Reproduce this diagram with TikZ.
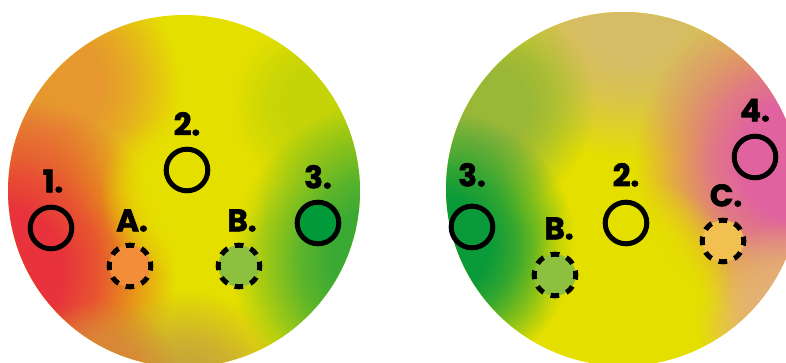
\documentclass[tikz,border=0pt]{standalone}
\usepackage{fontspec}
\setmainfont{Poppins}[BoldFeatures={FakeBold=2}]
\usepackage{tikz}
\usetikzlibrary{positioning,fadings}
\definecolor{DiscRed}{HTML}{E8333C}
\definecolor{DiscOrange}{HTML}{E6982F}
\definecolor{DiscYellow}{HTML}{E5DF00}
\definecolor{DiscLime}{HTML}{C4D408}
\definecolor{DiscGreen}{HTML}{3AAA35}
\definecolor{DeepGreen}{HTML}{0A9A3A}
\definecolor{MossGreen}{HTML}{9AB838}
\definecolor{DiscTan}{HTML}{D6BC64}
\definecolor{DiscPeach}{HTML}{E4B078}
\definecolor{DiscPink}{HTML}{E063A0}
\definecolor{DiscOlive}{HTML}{C8A838}
\definecolor{DiscBrown}{HTML}{D8863A}
\definecolor{FillOrange}{HTML}{F28D3A}
\definecolor{FillLime}{HTML}{8DC03F}
\definecolor{FillSand}{HTML}{F2C050}
\definecolor{FillGreen}{HTML}{009A3A}
\definecolor{mkA}{gray}{0.8}
\definecolor{mkB}{gray}{0.45}
\definecolor{mkC}{gray}{0.15}
% spot mask: flat core, soft rim
\pgfdeclareradialshading{spotmask}{\pgfpoint{0bp}{0bp}}{
  color(0bp)=(white); color(9bp)=(white); color(14bp)=(mkA);
  color(19bp)=(mkB); color(23bp)=(mkC); color(25bp)=(black);
  color(50bp)=(black)}
\pgfdeclarefading{spot}{\pgfuseshading{spotmask}}
\tikzset{
  % soft colour spot
  blob/.style={path fading=spot},
  % marker rings
  ring/.style={circle,draw=black,line width=5pt,inner sep=0pt,
               minimum size=41.6pt},
  dring/.style={ring,dash pattern=on 8.5pt off 7.8pt,dash phase=4.25pt},
  % numbers and letters
  tag/.style={inner sep=0pt,font=\fontsize{31}{31}\selectfont\bfseries}
}
\begin{document}
\begin{tikzpicture}[x=1pt,y=-1pt]
  \useasboundingbox (0,0) rectangle (786,363);
  \clip (0,0) rectangle (786,363);
  \coordinate (lc) at (184,191);
  \coordinate (rc) at (623,189);
  % left disc
  \begin{scope}
    \clip (lc) circle (176);
    \fill[DiscYellow] (lc) circle (176);
    \fill[DiscOrange,blob] (55,85) circle (125);
    \fill[DiscRed,blob] (0,270) circle (175);
    \fill[DiscLime,blob] (320,105) circle (90);
    \fill[DiscGreen,blob] (390,260) circle (160);
    \fill[DiscOlive,blob] (185,400) circle (110);
    \fill[DiscBrown,blob] (100,380) circle (80);
    \fill[DiscYellow,blob] (185,195) circle (85);
  \end{scope}
  % right disc
  \begin{scope}
    \clip (rc) circle (177);
    \fill[DiscYellow] (rc) circle (177);
    \fill[DiscTan,blob] (630,10) circle (150);
    \fill[MossGreen,blob] (490,105) circle (105);
    \fill[DeepGreen,blob] (440,245) circle (135);
    \fill[DiscPink,blob] (800,160) circle (165);
    \fill[DiscPeach,blob] (790,315) circle (95);
    \fill[DiscYellow,blob] (632,275) circle (100);
  \end{scope}
  % left markers
  \node[ring] (l1) at (51,228) {};
  \node[ring] (l2) at (187,170) {};
  \node[ring,fill=FillGreen] (l3) at (318,223) {};
  \node[dring,fill=FillOrange] (lA) at (130,266) {};
  \node[dring,fill=FillLime] (lB) at (239,266) {};
  \node[tag,above=12pt of l1,xshift=2pt] (t1) {1.};
  \node[tag,above=11pt of l2] (t2) {2.};
  \node[tag,above=11pt of l3] (t3) {3.};
  \node[tag,above=11pt of lA,xshift=2pt] (tA) {A.};
  \node[tag,above=11pt of lB,xshift=3pt] (tB) {B.};
  % right markers
  \node[ring,fill=DeepGreen] (r3) at (472,227) {};
  \node[ring] (r2) at (626,223) {};
  \node[ring] (r4) at (755,157) {};
  \node[dring,fill=FillLime] (rB) at (555,275) {};
  \node[dring,fill=FillSand] (rC) at (723,241) {};
  \node[tag,above=17pt of r3] (u3) {3.};
  \node[tag,above=13pt of r2] (u2) {2.};
  \node[tag,above=12pt of r4] (u4) {4.};
  \node[tag,above=12pt of rB,xshift=4pt] (uB) {B.};
  \node[tag,above=11pt of rC,xshift=3pt] (uC) {C.};
\end{tikzpicture}
\end{document}
